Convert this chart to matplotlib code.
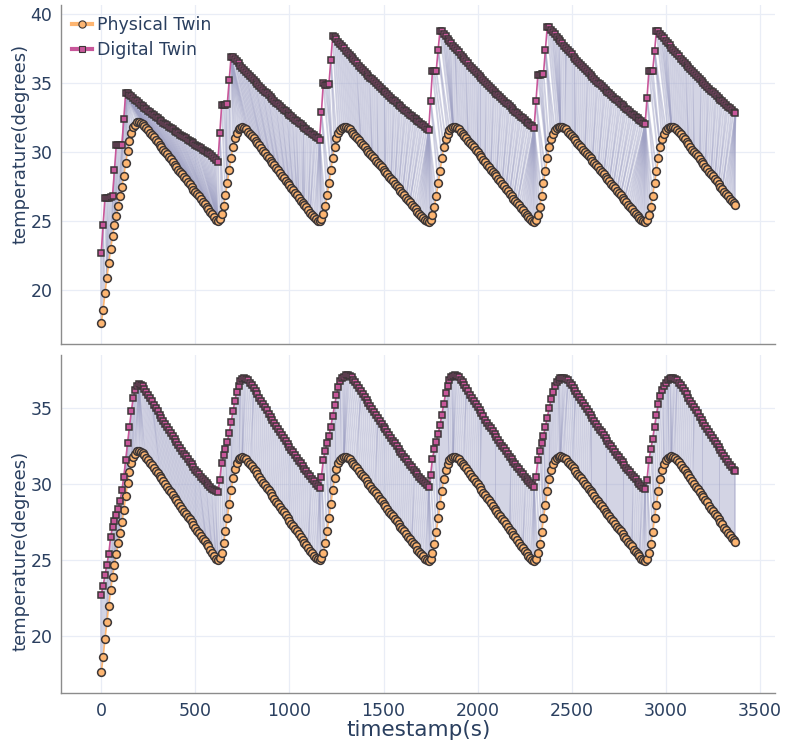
import numpy as np
import matplotlib
matplotlib.use("Agg")
import matplotlib.pyplot as plt
from matplotlib.collections import LineCollection
from matplotlib.lines import Line2D

# sampled every 10 s
timestamps = np.arange(0, 3380, 10)

physical = [
    # cycle 0
    17.6, 18.6, 19.8, 20.9, 22.0, 23.0, 23.9, 24.7, 25.4, 26.1,
    26.8, 27.5, 28.3, 29.2, 30.1, 30.8, 31.4, 31.8, 32.0, 32.2,
    32.2, 32.15, 32.05, 31.9, 31.75, 31.6, 31.4, 31.25, 31.1, 30.9,
    30.75, 30.55, 30.4, 30.2, 30.0, 29.85, 29.65, 29.5, 29.3, 29.1,
    28.95, 28.75, 28.6, 28.4, 28.2, 28.05, 27.85, 27.7, 27.5, 27.3,
    27.15, 26.95, 26.8, 26.6, 26.4, 26.25, 26.05, 25.9, 25.7, 25.5,
    25.3, 25.1, 25.0,
    # cycle 1
    25.15, 25.5, 26.1, 26.9, 27.8, 28.7, 29.6, 30.4, 31.0, 31.4,
    31.65, 31.75, 31.8,
    31.75, 31.65, 31.5, 31.35, 31.2, 31.0, 30.85, 30.65, 30.5, 30.3,
    30.1, 29.95, 29.75, 29.6, 29.4, 29.2, 29.05, 28.85, 28.7, 28.5,
    28.3, 28.15, 27.95, 27.8, 27.6, 27.4, 27.25, 27.05, 26.9, 26.7,
    26.5, 26.35, 26.15, 26.0, 25.8, 25.6, 25.45, 25.3, 25.15, 25.05,
    25.0,
    # cycle 2
    25.15, 25.5, 26.1, 26.9, 27.8, 28.7, 29.6, 30.4, 31.0, 31.4,
    31.6, 31.75, 31.8, 31.8,
    31.75, 31.65, 31.5, 31.35, 31.2, 31.05, 30.9, 30.7, 30.55, 30.4,
    30.2, 30.05, 29.9, 29.7, 29.55, 29.4, 29.2, 29.05, 28.9, 28.7,
    28.55, 28.4, 28.2, 28.05, 27.9, 27.7, 27.55, 27.4, 27.2, 27.05,
    26.9, 26.7, 26.55, 26.4, 26.2, 26.05, 25.9, 25.7, 25.55, 25.4,
    25.25, 25.1, 25.0, 24.95,
    # cycle 3
    25.1, 25.45, 26.05, 26.85, 27.75, 28.65, 29.55, 30.35, 30.95, 31.35,
    31.6, 31.75, 31.8, 31.8,
    31.75, 31.65, 31.5, 31.35, 31.2, 31.05, 30.85, 30.7, 30.5, 30.35,
    30.15, 30.0, 29.8, 29.65, 29.45, 29.3, 29.1, 28.95, 28.75, 28.6,
    28.4, 28.25, 28.05, 27.9, 27.7, 27.55, 27.35, 27.2, 27.0, 26.85,
    26.65, 26.5, 26.3, 26.15, 25.95, 25.8, 25.6, 25.45, 25.3, 25.15,
    25.0, 24.95,
    # cycle 4
    25.1, 25.45, 26.05, 26.85, 27.75, 28.65, 29.55, 30.35, 30.95, 31.35,
    31.6, 31.75, 31.8, 31.85, 31.8,
    31.75, 31.65, 31.5, 31.35, 31.2, 31.05, 30.9, 30.7, 30.55, 30.4,
    30.2, 30.05, 29.9, 29.7, 29.55, 29.4, 29.2, 29.05, 28.9, 28.7,
    28.55, 28.4, 28.2, 28.05, 27.9, 27.7, 27.55, 27.4, 27.2, 27.05,
    26.9, 26.7, 26.55, 26.4, 26.2, 26.05, 25.9, 25.7, 25.55, 25.4,
    25.25, 25.1, 25.0, 24.95,
    # cycle 5
    25.1, 25.45, 26.05, 26.85, 27.75, 28.65, 29.55, 30.35, 30.95, 31.35,
    31.6, 31.75, 31.8, 31.85, 31.8,
    31.75, 31.6, 31.45, 31.3, 31.1, 30.95, 30.75, 30.6, 30.4, 30.2,
    30.05, 29.85, 29.7, 29.5, 29.3, 29.15, 28.95, 28.8, 28.6, 28.4,
    28.25, 28.05, 27.9, 27.7, 27.5, 27.35, 27.15, 27.0, 26.8, 26.65,
    26.45, 26.3, 26.2,
]

digital_step = [
    # cycle 0
    22.7, 24.7, 26.7, 26.7, 26.7, 26.75, 26.8, 28.7, 30.5, 30.5,
    30.5, 30.55, 32.4, 34.3, 34.3,
    34.18, 34.05, 33.93, 33.81, 33.69, 33.57, 33.45, 33.34, 33.23, 33.11,
    33.0, 32.89, 32.78, 32.67, 32.56, 32.46, 32.35, 32.25, 32.15, 32.05,
    31.95, 31.85, 31.75, 31.65, 31.55, 31.46, 31.36, 31.27, 31.18, 31.09,
    31.0, 30.91, 30.82, 30.73, 30.64, 30.55, 30.46, 30.38, 30.29, 30.2,
    30.12, 30.03, 29.95, 29.86, 29.75, 29.62, 29.45, 29.3,
    # cycle 1
    31.4, 33.4, 33.4, 33.45, 33.5, 35.2, 36.9, 36.9,
    36.74, 36.58, 36.43, 36.27, 36.12, 35.97, 35.82, 35.67, 35.52, 35.38,
    35.23, 35.09, 34.95, 34.81, 34.67, 34.53, 34.39, 34.26, 34.12, 33.99,
    33.86, 33.73, 33.6, 33.47, 33.34, 33.22, 33.09, 32.97, 32.85, 32.72,
    32.6, 32.48, 32.37, 32.25, 32.13, 32.02, 31.9, 31.79, 31.68, 31.57,
    31.46, 31.35, 31.24, 31.13, 31.02, 30.92,
    # cycle 2
    32.9, 35.0, 34.9, 34.9, 34.95, 36.7, 38.4, 38.35,
    38.18, 38.01, 37.84, 37.68, 37.52, 37.36, 37.2, 37.04, 36.89, 36.73,
    36.58, 36.43, 36.28, 36.13, 35.98, 35.84, 35.69, 35.55, 35.41, 35.27,
    35.13, 34.99, 34.86, 34.72, 34.59, 34.46, 34.33, 34.2, 34.07, 33.94,
    33.81, 33.69, 33.56, 33.44, 33.32, 33.2, 33.08, 32.96, 32.84, 32.72,
    32.61, 32.49, 32.38, 32.27, 32.16, 32.05, 31.94, 31.83, 31.72, 31.62,
    # cycle 3
    33.7, 35.9, 35.85, 35.9, 37.4, 38.8, 38.75,
    38.58, 38.4, 38.23, 38.06, 37.89, 37.72, 37.56, 37.39, 37.23, 37.07,
    36.91, 36.75, 36.59, 36.44, 36.28, 36.13, 35.98, 35.83, 35.68, 35.53,
    35.38, 35.24, 35.09, 34.95, 34.81, 34.67, 34.53, 34.39, 34.25, 34.12,
    33.98, 33.85, 33.72, 33.59, 33.46, 33.33, 33.2, 33.07, 32.95, 32.82,
    32.7, 32.58, 32.46, 32.34, 32.22, 32.1, 31.98, 31.87, 31.75,
    # cycle 4
    33.7, 35.6, 35.6, 35.65, 35.7, 37.4, 39.1, 39.05,
    38.88, 38.71, 38.54, 38.37, 38.2, 38.04, 37.88, 37.72, 37.56, 37.4,
    37.24, 37.09, 36.93, 36.78, 36.63, 36.48, 36.33, 36.18, 36.04, 35.89,
    35.75, 35.61, 35.47, 35.33, 35.19, 35.05, 34.92, 34.78, 34.65, 34.52,
    34.39, 34.26, 34.13, 34.0, 33.88, 33.75, 33.63, 33.51, 33.39, 33.27,
    33.15, 33.03, 32.91, 32.8, 32.68, 32.57, 32.46, 32.35, 32.24, 32.13,
    32.02,
    # cycle 5
    33.9, 35.9, 35.85, 35.9, 37.3, 38.8, 38.75,
    38.58, 38.41, 38.24, 38.07, 37.91, 37.74, 37.58, 37.42, 37.26, 37.1,
    36.94, 36.79, 36.63, 36.48, 36.33, 36.18, 36.03, 35.88, 35.73, 35.59,
    35.44, 35.3, 35.16, 35.02, 34.88, 34.74, 34.6, 34.47, 34.33, 34.2,
    34.07, 33.94, 33.81, 33.68, 33.55, 33.42, 33.3, 33.17, 33.05, 32.93,
    32.81,
]

digital_smooth = [
    # cycle 0
    22.7, 23.3, 24.0, 24.7, 25.4, 26.5, 27.2, 27.6, 28.0, 28.4,
    28.9, 29.6, 30.5, 31.6, 32.7, 33.8, 34.8, 35.7, 36.2, 36.5,
    36.6,
    36.55, 36.45, 36.3, 36.1, 35.9, 35.7, 35.48, 35.26, 35.04, 34.82,
    34.6, 34.38, 34.17, 33.96, 33.76, 33.56, 33.36, 33.16, 32.96, 32.77,
    32.58, 32.39, 32.2, 32.02, 31.84, 31.66, 31.48, 31.31, 31.14, 30.97,
    30.81, 30.65, 30.5, 30.35, 30.2, 30.06, 29.93, 29.8, 29.69, 29.6,
    29.53, 29.5,
    # cycle 1
    30.3, 31.4, 31.9, 32.3, 32.8, 33.4, 34.1, 34.8, 35.5, 36.1,
    36.5, 36.8, 36.95, 37.0,
    36.95, 36.85, 36.7, 36.52, 36.33, 36.13, 35.92, 35.71, 35.5, 35.29,
    35.08, 34.87, 34.66, 34.45, 34.25, 34.05, 33.85, 33.65, 33.45, 33.25,
    33.05, 32.86, 32.67, 32.48, 32.29, 32.1, 31.92, 31.74, 31.56, 31.38,
    31.2, 31.03, 30.86, 30.69, 30.53, 30.37, 30.21, 30.05, 29.9, 29.75,
    # cycle 2
    30.5, 31.6, 32.2, 32.7, 33.2, 33.8, 34.5, 35.2, 35.9, 36.4,
    36.8, 37.0, 37.1, 37.2, 37.2,
    37.15, 37.05, 36.9, 36.73, 36.55, 36.36, 36.16, 35.96, 35.76, 35.56,
    35.36, 35.16, 34.96, 34.76, 34.57, 34.38, 34.19, 34.0, 33.81, 33.62,
    33.43, 33.24, 33.06, 32.88, 32.7, 32.52, 32.34, 32.16, 31.98, 31.81,
    31.64, 31.47, 31.3, 31.13, 30.97, 30.81, 30.65, 30.5, 30.35, 30.2,
    30.06, 29.93, 29.8,
    # cycle 3
    30.6, 31.7, 32.3, 32.8, 33.3, 33.9, 34.6, 35.3, 36.0, 36.5,
    36.85, 37.05, 37.15, 37.2,
    37.15, 37.05, 36.9, 36.72, 36.53, 36.33, 36.12, 35.91, 35.7, 35.49,
    35.28, 35.07, 34.87, 34.67, 34.47, 34.27, 34.07, 33.87, 33.68, 33.49,
    33.3, 33.11, 32.92, 32.73, 32.55, 32.37, 32.19, 32.01, 31.83, 31.66,
    31.49, 31.32, 31.15, 30.98, 30.82, 30.66, 30.5, 30.35, 30.2, 30.06,
    29.93, 29.8,
    # cycle 4
    30.5, 31.6, 32.2, 32.7, 33.2, 33.8, 34.4, 35.0, 35.6, 36.1,
    36.5, 36.75, 36.9, 36.98, 37.0, 37.0,
    36.95, 36.85, 36.7, 36.53, 36.35, 36.16, 35.96, 35.76, 35.56, 35.36,
    35.16, 34.96, 34.76, 34.56, 34.37, 34.18, 33.99, 33.8, 33.61, 33.42,
    33.23, 33.04, 32.86, 32.68, 32.5, 32.32, 32.14, 31.96, 31.78, 31.61,
    31.44, 31.27, 31.1, 30.94, 30.78, 30.62, 30.47, 30.32, 30.17, 30.03,
    29.9, 29.78, 29.7,
    # cycle 5
    30.3, 31.6, 32.3, 33.0, 33.8, 34.6, 35.3, 35.8, 36.2, 36.5,
    36.7, 36.85, 36.95, 37.0, 37.0,
    36.95, 36.85, 36.7, 36.52, 36.33, 36.13, 35.93, 35.72, 35.51, 35.3,
    35.09, 34.88, 34.67, 34.46, 34.25, 34.04, 33.83, 33.63, 33.43, 33.23,
    33.03, 32.83, 32.63, 32.43, 32.24, 32.05, 31.86, 31.67, 31.48, 31.3,
    31.12, 30.95, 30.85,
]

assert len(physical) == len(timestamps), len(physical)
assert len(digital_step) == len(timestamps), len(digital_step)
assert len(digital_smooth) == len(timestamps), len(digital_smooth)

TXT = '#2a3f5f'
GRID = '#e9edf6'
ORANGE = '#fdb571'
PINK = '#c8579a'
EDGE = '#3b3637'


def dtw_path(a, b):
    # plain dynamic time warping on z-normalised series
    a = (a - a.mean()) / a.std()
    b = (b - b.mean()) / b.std()
    n, m = len(a), len(b)
    d = np.abs(a[:, None] - b[None, :]).tolist()
    inf = float('inf')
    cost = [[inf] * (m + 1) for _ in range(n + 1)]
    cost[0][0] = 0.0
    for i in range(1, n + 1):
        ci, cp, di = cost[i], cost[i - 1], d[i - 1]
        for j in range(1, m + 1):
            ci[j] = di[j - 1] + min(cp[j], ci[j - 1], cp[j - 1])
    i, j = n, m
    path = []
    while i > 0 and j > 0:
        path.append((i - 1, j - 1))
        opts = [cost[i - 1][j - 1], cost[i - 1][j], cost[i][j - 1]]
        k = int(np.argmin(opts))
        if k == 0:
            i, j = i - 1, j - 1
        elif k == 1:
            i -= 1
        else:
            j -= 1
    return path[::-1]


t = np.asarray(timestamps, dtype=float)
phys = np.asarray(physical)

fig = plt.figure(figsize=(7.86, 7.45), dpi=100)
ax1 = fig.add_axes([0.078, 0.538, 0.908, 0.455])
ax2 = fig.add_axes([0.078, 0.070, 0.908, 0.453], sharex=ax1)

for ax, dig, ylim, yt in [(ax1, digital_step, (16.1, 40.65), [20, 25, 30, 35, 40]),
                          (ax2, digital_smooth, (16.25, 38.5), [20, 25, 30, 35])]:
    dig = np.asarray(dig)
    path = dtw_path(phys, dig)
    segs = [[(t[i], phys[i]), (t[j], dig[j])] for i, j in path]
    ax.add_collection(LineCollection(segs, colors='#9fa1c4', linewidths=1.3,
                                     alpha=0.5, zorder=2))
    ax.plot(t, phys, '-o', color=ORANGE, lw=1.2, ms=5.6, mfc=ORANGE, mec=EDGE,
            mew=1.1, zorder=3)
    ax.plot(t, dig, '-s', color=PINK, lw=1.2, ms=4.6, mfc=PINK, mec=EDGE,
            mew=1.1, zorder=4)
    ax.set_ylim(*ylim)
    ax.set_yticks(yt)
    ax.grid(True, color=GRID, lw=0.9)
    ax.set_axisbelow(True)
    for s in ['top', 'right']:
        ax.spines[s].set_visible(False)
    for s in ['left', 'bottom']:
        ax.spines[s].set_color('#8c8c8c')
        ax.spines[s].set_linewidth(1.0)
    ax.tick_params(length=0, labelsize=12.5, labelcolor=TXT, pad=6.5)
    ax.set_ylabel('temperature(degrees)', fontsize=13, color=TXT)

ax1.set_xlim(-212, 3580)
ax1.set_xticks([0, 500, 1000, 1500, 2000, 2500, 3000, 3500])
ax1.tick_params(labelbottom=False)
ax1.yaxis.set_label_coords(-0.044, 0.59)
ax2.yaxis.set_label_coords(-0.044, 0.42)
ax2.set_xlabel('timestamp(s)', fontsize=15.5, color=TXT, labelpad=0)

handles = [
    Line2D([], [], color=ORANGE, lw=3, marker='o', ms=5.2, mfc=ORANGE, mec=EDGE, mew=0.8),
    Line2D([], [], color=PINK, lw=3, marker='s', ms=4.3, mfc=PINK, mec=EDGE, mew=0.8),
]
leg = ax1.legend(handles, ['Physical Twin', 'Digital Twin'], loc='upper left',
                 frameon=False, fontsize=12.5, handlelength=1.15,
                 handletextpad=0.3, labelspacing=0.45, borderaxespad=0.2,
                 borderpad=0.4)
for txt in leg.get_texts():
    txt.set_color(TXT)

fig.savefig('out.png', dpi=100)
